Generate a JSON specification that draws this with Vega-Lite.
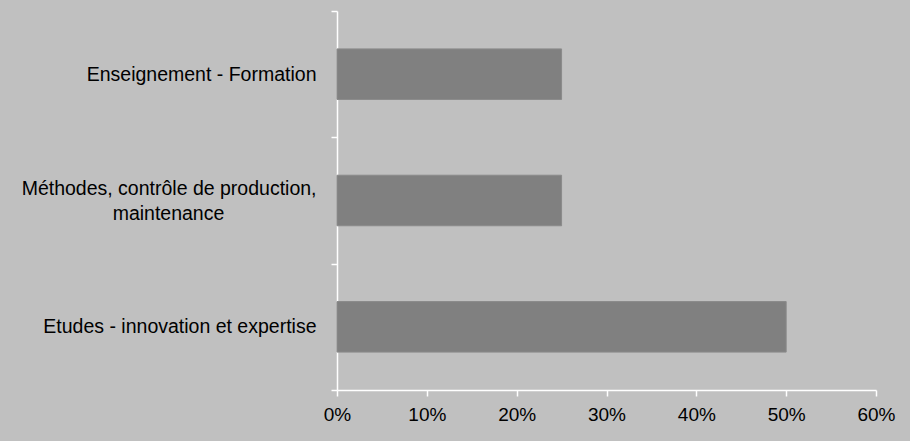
{
  "$schema": "https://vega.github.io/schema/vega-lite/v6.json",
  "autosize": {"type": "none"},
  "width": 539,
  "height": 379,
  "padding": {"left": 337, "top": 11, "right": 34, "bottom": 51},
  "background": "#c0c0c0",
  "config": {
    "view": {"stroke": null},
    "axis": {"grid": false}
  },
  "data": {
    "values": [
      {"categorie": "Enseignement - Formation", "part": 0.25},
      {"categorie": "Méthodes, contrôle de production, maintenance", "part": 0.25},
      {"categorie": "Etudes - innovation et expertise", "part": 0.5}
    ]
  },
  "mark": {"type": "bar", "color": "#808080", "stroke": "#8a8a8a", "strokeWidth": 1, "height": {"band": 0.4}},
  "encoding": {
    "y": {
      "field": "categorie",
      "type": "nominal",
      "sort": ["Enseignement - Formation", "Méthodes, contrôle de production, maintenance", "Etudes - innovation et expertise"],
      "scale": {"paddingInner": 0, "paddingOuter": 0},
      "axis": {
        "title": null,
        "tickBand": "extent",
        "domainColor": "white",
        "domainWidth": 1.5,
        "tickColor": "white",
        "tickWidth": 1.5,
        "tickSize": 6,
        "labelPadding": 15,
        "labelFont": "Liberation Sans, Arial",
        "labelFontSize": 19.5,
        "labelColor": "black",
        "labelLimit": 400,
        "labelLineHeight": 25,
        "labelOffset": {"condition": {"test": "datum.value == 'Méthodes, contrôle de production, maintenance'", "value": -12.5}, "value": 0},
        "labelExpr": "datum.value == 'Méthodes, contrôle de production, maintenance' ? ['Méthodes, contrôle de production,', 'maintenance\u2007\u2007\u2007\u2007\u2007\u2007\u2007\u2007\u00a0\u2060'] : datum.value"
      }
    },
    "x": {
      "field": "part",
      "type": "quantitative",
      "scale": {"domain": [0, 0.6], "nice": false},
      "axis": {
        "title": null,
        "values": [0, 0.1, 0.2, 0.3, 0.4, 0.5, 0.6],
        "format": ".0%",
        "domainColor": "white",
        "domainWidth": 1.5,
        "tickColor": "white",
        "tickWidth": 1.5,
        "tickSize": 6,
        "labelPadding": 9,
        "labelFont": "Liberation Sans, Arial",
        "labelFontSize": 19,
        "labelColor": "black",
        "labelFlush": false
      }
    }
  }
}
